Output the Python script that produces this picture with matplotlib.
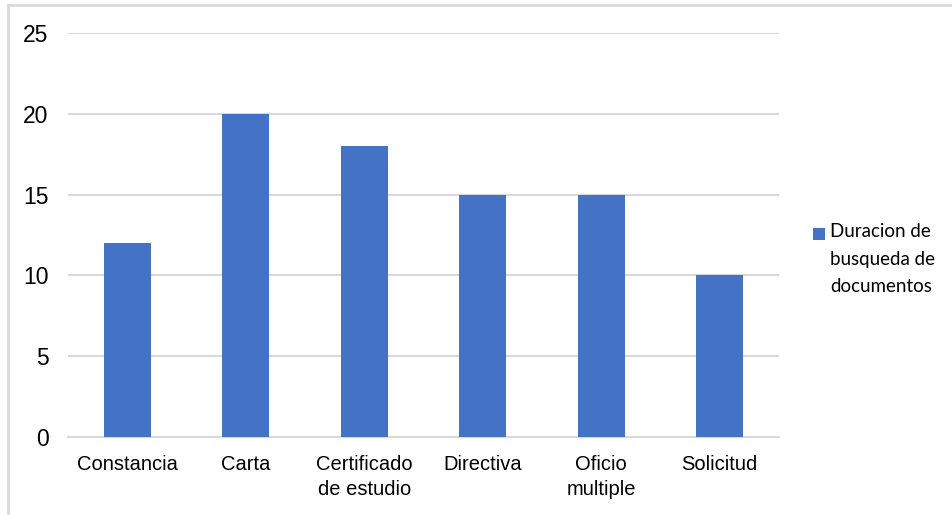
import matplotlib.pyplot as plt
from matplotlib.lines import Line2D
from matplotlib.patches import Rectangle

categories = ["Constancia", "Carta", "Certificado\nde estudio", "Directiva", "Oficio\nmultiple", "Solicitud"]
duracion = [12, 20, 18, 15, 15, 10]
serie = "Duracion de\nbusqueda de\ndocumentos"

W, H = 952, 515
fig = plt.figure(figsize=(W / 100, H / 100), dpi=100)
ax = fig.add_axes([68 / W, 1 - 437 / H, (779 - 68) / W, (437 - 33) / H])

bar_color = "#4472C4"
x = range(len(categories))
ax.bar(x, duracion, width=0.4, color=bar_color, zorder=3)

ax.set_xlim(-0.5, len(categories) - 0.5)
ax.set_ylim(0, 25)
ax.set_yticks(range(0, 26, 5))
ax.set_xticks(list(x))
ax.set_xticklabels(categories, fontsize=14.5, family="Liberation Sans", linespacing=1.4)
for lbl in ax.get_yticklabels():
    lbl.set_family("Liberation Sans")
    lbl.set_fontsize(16.5)

ax.grid(axis="y", color="#d9d9d9", linewidth=1.5, zorder=0)
for s in ["top", "right", "left"]:
    ax.spines[s].set_visible(False)
ax.spines["bottom"].set_color("#d9d9d9")
ax.spines["bottom"].set_linewidth(1.5)
ax.tick_params(axis="both", length=0, colors="#000000")
ax.tick_params(axis="y", pad=14)
ax.tick_params(axis="x", pad=13)

# legend: square swatch next to the first line of the series name
fig.add_artist(Rectangle((813 / W, 1 - 240 / H), 12 / W, 12 / H,
                         transform=fig.transFigure, facecolor=bar_color, edgecolor="none"))
fig.text(830 / W, 1 - 223 / H, serie, ha="left", va="top", family="Lato",
         fontsize=13.5, linespacing=1.75)

# thin frame on the top and left edges
fig.add_artist(Line2D([8 / W, 1], [1 - 5 / H, 1 - 5 / H], color="#d9d9d9", linewidth=2))
fig.add_artist(Line2D([8 / W, 8 / W], [0, 1 - 5 / H], color="#d9d9d9", linewidth=2))

fig.savefig("out.png", dpi=100)
